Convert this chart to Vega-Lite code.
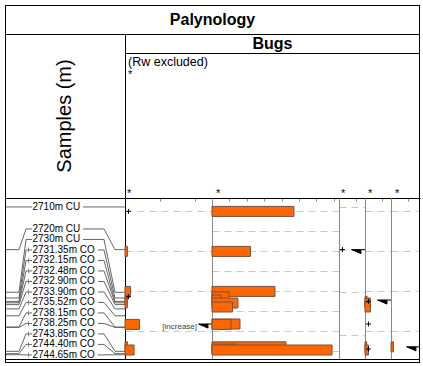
{
  "$schema": "https://vega.github.io/schema/vega-lite/v6.json",
  "padding": 4,
  "spacing": 0,
  "bounds": "flush",
  "align": "each",
  "columns": 6,
  "config": {
    "view": {"stroke": null},
    "font": "Liberation Sans",
    "concat": {"spacing": 0}
  },
  "datasets": {
    "samples": [
      {"depth": 2710, "label": "2710m CU", "kind": "CU", "ly": 2710},
      {"depth": 2720, "label": "2720m CU", "kind": "CU", "ly": 2715.16},
      {"depth": 2730, "label": "2730m CU", "kind": "CU", "ly": 2717.62},
      {"depth": 2731.35, "label": "2731.35m CO", "kind": "CO", "ly": 2720.08},
      {"depth": 2732.15, "label": "2732.15m CO", "kind": "CO", "ly": 2722.54},
      {"depth": 2732.48, "label": "2732.48m CO", "kind": "CO", "ly": 2725.0},
      {"depth": 2732.9, "label": "2732.90m CO", "kind": "CO", "ly": 2727.47},
      {"depth": 2733.9, "label": "2733.90m CO", "kind": "CO", "ly": 2729.93},
      {"depth": 2735.52, "label": "2735.52m CO", "kind": "CO", "ly": 2732.39},
      {"depth": 2738.15, "label": "2738.15m CO", "kind": "CO", "ly": 2734.85},
      {"depth": 2738.25, "label": "2738.25m CO", "kind": "CO", "ly": 2737.31},
      {"depth": 2743.85, "label": "2743.85m CO", "kind": "CO", "ly": 2739.77},
      {"depth": 2744.4, "label": "2744.40m CO", "kind": "CO", "ly": 2742.23},
      {"depth": 2744.65, "label": "2744.65m CO", "kind": "CO", "ly": 2744.69}
    ],
    "counts": [
      {"taxon": "T1", "depth": 2720, "value": 1.4},
      {"taxon": "T1", "depth": 2730, "value": 3.1},
      {"taxon": "T1", "depth": 2732.15, "value": 1.3},
      {"taxon": "T1", "depth": 2732.9, "value": 1.3},
      {"taxon": "T1", "depth": 2738.25, "value": 8.3},
      {"taxon": "T1", "depth": 2743.85, "value": 1.4},
      {"taxon": "T1", "depth": 2744.65, "value": 5.2},
      {"taxon": "T2", "depth": 2710, "value": 47.1},
      {"taxon": "T2", "depth": 2720, "value": 22.1},
      {"taxon": "T2", "depth": 2730, "value": 36.2},
      {"taxon": "T2", "depth": 2731.35, "value": 9.8},
      {"taxon": "T2", "depth": 2732.15, "value": 5.2},
      {"taxon": "T2", "depth": 2732.9, "value": 14.9},
      {"taxon": "T2", "depth": 2733.9, "value": 11.8},
      {"taxon": "T2", "depth": 2738.15, "value": 16.1},
      {"taxon": "T2", "depth": 2738.25, "value": 10.9},
      {"taxon": "T2", "depth": 2743.85, "value": 42.5},
      {"taxon": "T2", "depth": 2744.4, "value": 13.8},
      {"taxon": "T2", "depth": 2744.65, "value": 69},
      {"taxon": "T4", "depth": 2732.48, "value": 1.2},
      {"taxon": "T4", "depth": 2732.9, "value": 3.1},
      {"taxon": "T4", "depth": 2733.9, "value": 3.1},
      {"taxon": "T4", "depth": 2743.85, "value": 1.0},
      {"taxon": "T4", "depth": 2744.65, "value": 2.0},
      {"taxon": "T5", "depth": 2743.85, "value": 1.4}
    ],
    "presence": [
      {"taxon": "T1", "depth": 2710},
      {"taxon": "T1", "depth": 2731.35},
      {"taxon": "T3", "depth": 2720},
      {"taxon": "T4", "depth": 2732.48},
      {"taxon": "T4", "depth": 2738.15},
      {"taxon": "T4", "depth": 2744.4}
    ],
    "wedges": [
      {"taxon": "T1", "depth": 2738.15, "note": "[increase]"},
      {"taxon": "T3", "depth": 2720, "note": ""},
      {"taxon": "T4", "depth": 2732.15, "note": ""},
      {"taxon": "T5", "depth": 2743.85, "note": ""}
    ]
  },
  "concat": [
    {"width": 120, "height": 29, "data": {"values": [{}]}, "layer": [
      {"mark": {"type": "rule", "color": "black", "yOffset": 0.5}, "encoding": {"x": {"value": 0}, "x2": {"value": "width"}, "y": {"value": 0}}},
      {"mark": {"type": "rule", "color": "black", "xOffset": 0.5}, "encoding": {"x": {"value": 0}, "y": {"value": 0}, "y2": {"value": "height"}}}
    ]},
    {"width": 87, "height": 29, "data": {"values": [{"t": "Palynology"}]}, "layer": [
      {"mark": {"type": "rule", "color": "black", "yOffset": 0.5}, "encoding": {"x": {"value": 0}, "x2": {"value": "width"}, "y": {"value": 0}}},
      {"mark": {"type": "text", "fontSize": 16, "fontWeight": "bold", "align": "center", "baseline": "middle", "dx": 0.5}, "encoding": {"x": {"value": "width"}, "text": {"field": "t"}}}
    ]},
    {"width": 127, "height": 29, "data": {"values": [{}]}, "layer": [
      {"mark": {"type": "rule", "color": "black", "yOffset": 0.5}, "encoding": {"x": {"value": 0}, "x2": {"value": "width"}, "y": {"value": 0}}}
    ]},
    {"width": 26, "height": 29, "data": {"values": [{}]}, "layer": [
      {"mark": {"type": "rule", "color": "black", "yOffset": 0.5}, "encoding": {"x": {"value": 0}, "x2": {"value": "width"}, "y": {"value": 0}}}
    ]},
    {"width": 26, "height": 29, "data": {"values": [{}]}, "layer": [
      {"mark": {"type": "rule", "color": "black", "yOffset": 0.5}, "encoding": {"x": {"value": 0}, "x2": {"value": "width"}, "y": {"value": 0}}}
    ]},
    {"width": 29, "height": 29, "data": {"values": [{}]}, "layer": [
      {"mark": {"type": "rule", "color": "black", "yOffset": 0.5}, "encoding": {"x": {"value": 0}, "x2": {"value": "width"}, "y": {"value": 0}}},
      {"mark": {"type": "rule", "color": "black", "xOffset": -0.5}, "encoding": {"x": {"value": "width"}, "y": {"value": 0}, "y2": {"value": "height"}}}
    ]},

    {"width": 120, "height": 19, "data": {"values": [{}]}, "layer": [
      {"mark": {"type": "rule", "color": "black", "yOffset": 0.5}, "encoding": {"x": {"value": 0}, "x2": {"value": "width"}, "y": {"value": 0}}},
      {"mark": {"type": "rule", "color": "black", "xOffset": 0.5}, "encoding": {"x": {"value": 0}, "y": {"value": 0}, "y2": {"value": "height"}}}
    ]},
    {"width": 87, "height": 19, "data": {"values": [{}]}, "layer": [
      {"mark": {"type": "rule", "color": "black", "yOffset": 0.5}, "encoding": {"x": {"value": 0}, "x2": {"value": "width"}, "y": {"value": 0}}},
      {"mark": {"type": "rule", "color": "black", "xOffset": 0.5}, "encoding": {"x": {"value": 0}, "y": {"value": 0}, "y2": {"value": "height"}}}
    ]},
    {"width": 127, "height": 19, "data": {"values": [{"t": "Bugs"}]}, "layer": [
      {"mark": {"type": "rule", "color": "black", "yOffset": 0.5}, "encoding": {"x": {"value": 0}, "x2": {"value": "width"}, "y": {"value": 0}}},
      {"mark": {"type": "text", "fontSize": 16, "fontWeight": "bold", "align": "center", "baseline": "middle", "dx": -3, "dy": 0.5}, "encoding": {"text": {"field": "t"}}}
    ]},
    {"width": 26, "height": 19, "data": {"values": [{}]}, "layer": [
      {"mark": {"type": "rule", "color": "black", "yOffset": 0.5}, "encoding": {"x": {"value": 0}, "x2": {"value": "width"}, "y": {"value": 0}}}
    ]},
    {"width": 26, "height": 19, "data": {"values": [{}]}, "layer": [
      {"mark": {"type": "rule", "color": "black", "yOffset": 0.5}, "encoding": {"x": {"value": 0}, "x2": {"value": "width"}, "y": {"value": 0}}}
    ]},
    {"width": 29, "height": 19, "data": {"values": [{}]}, "layer": [
      {"mark": {"type": "rule", "color": "black", "yOffset": 0.5}, "encoding": {"x": {"value": 0}, "x2": {"value": "width"}, "y": {"value": 0}}},
      {"mark": {"type": "rule", "color": "black", "xOffset": -0.5}, "encoding": {"x": {"value": "width"}, "y": {"value": 0}, "y2": {"value": "height"}}}
    ]},

    {"width": 120, "height": 145, "data": {"values": [{"t": "Samples (m)"}]}, "layer": [
      {"mark": {"type": "rule", "color": "black", "xOffset": 0.5}, "encoding": {"x": {"value": 0}, "y": {"value": 0}, "y2": {"value": "height"}}},
      {"mark": {"type": "text", "fontSize": 20, "angle": 270, "align": "center", "baseline": "middle", "dx": 9.5}, "encoding": {"text": {"field": "t"}}}
    ]},
    {"width": 87, "height": 145, "data": {"values": [{"t": "*"}]}, "layer": [
      {"mark": {"type": "rule", "color": "black", "yOffset": 0.5}, "encoding": {"x": {"value": 0}, "x2": {"value": "width"}, "y": {"value": 0}}},
      {"mark": {"type": "rule", "color": "black", "xOffset": 0.5}, "encoding": {"x": {"value": 0}, "y": {"value": 0}, "y2": {"value": "height"}}},
      {"mark": {"type": "text", "align": "left", "baseline": "top", "dx": 3, "dy": 3, "fontSize": 12.5}, "encoding": {"x": {"value": 0}, "y": {"value": 0}, "text": {"value": "(Rw excluded)"}}},
      {"mark": {"type": "text", "align": "left", "baseline": "top", "dx": 3, "dy": 16, "fontSize": 11}, "encoding": {"x": {"value": 0}, "y": {"value": 0}, "text": {"field": "t"}}},
      {"mark": {"type": "text", "align": "left", "baseline": "alphabetic", "dx": 2, "dy": -1, "fontSize": 11}, "encoding": {"x": {"value": 0}, "y": {"value": "height"}, "text": {"field": "t"}}}
    ]},
    {"width": 127, "height": 145, "data": {"values": [{"t": "*"}]}, "layer": [
      {"mark": {"type": "rule", "color": "black", "yOffset": 0.5}, "encoding": {"x": {"value": 0}, "x2": {"value": "width"}, "y": {"value": 0}}},
      {"mark": {"type": "text", "align": "left", "baseline": "alphabetic", "dx": 4, "dy": -1, "fontSize": 11}, "encoding": {"x": {"value": 0}, "y": {"value": "height"}, "text": {"field": "t"}}}
    ]},
    {"width": 26, "height": 145, "data": {"values": [{"t": "*"}]}, "layer": [
      {"mark": {"type": "rule", "color": "black", "yOffset": 0.5}, "encoding": {"x": {"value": 0}, "x2": {"value": "width"}, "y": {"value": 0}}},
      {"mark": {"type": "text", "align": "left", "baseline": "alphabetic", "dx": 2, "dy": -1, "fontSize": 11}, "encoding": {"x": {"value": 0}, "y": {"value": "height"}, "text": {"field": "t"}}}
    ]},
    {"width": 26, "height": 145, "data": {"values": [{"t": "*"}]}, "layer": [
      {"mark": {"type": "rule", "color": "black", "yOffset": 0.5}, "encoding": {"x": {"value": 0}, "x2": {"value": "width"}, "y": {"value": 0}}},
      {"mark": {"type": "text", "align": "left", "baseline": "alphabetic", "dx": 3, "dy": -1, "fontSize": 11}, "encoding": {"x": {"value": 0}, "y": {"value": "height"}, "text": {"field": "t"}}}
    ]},
    {"width": 29, "height": 145, "data": {"values": [{"t": "*"}]}, "layer": [
      {"mark": {"type": "rule", "color": "black", "yOffset": 0.5}, "encoding": {"x": {"value": 0}, "x2": {"value": "width"}, "y": {"value": 0}}},
      {"mark": {"type": "rule", "color": "black", "xOffset": -0.5}, "encoding": {"x": {"value": "width"}, "y": {"value": 0}, "y2": {"value": "height"}}},
      {"mark": {"type": "text", "align": "left", "baseline": "alphabetic", "dx": 4, "dy": -1, "fontSize": 11}, "encoding": {"x": {"value": 0}, "y": {"value": "height"}, "text": {"field": "t"}}}
    ]},

    {
      "width": 120, "height": 161,
      "data": {"name": "samples"},
      "layer": [
        {
          "mark": {"type": "rule", "color": "#666"},
          "encoding": {
            "x": {"datum": 0, "type": "quantitative", "scale": {"domain": [0, 120], "nice": false, "zero": false}, "axis": null},
            "x2": {"datum": 14},
            "y": {"field": "depth", "type": "quantitative", "scale": {"domain": [2707.9, 2745.65], "nice": false, "zero": false, "reverse": true}, "axis": null}
          }
        },
        {
          "mark": {"type": "rule", "color": "#666"},
          "encoding": {"x": {"datum": 14, "type": "quantitative"}, "x2": {"datum": 21}, "y": {"field": "depth", "type": "quantitative"}, "y2": {"field": "ly"}}
        },
        {
          "mark": {"type": "rule", "color": "#666"},
          "encoding": {"x": {"datum": 21, "type": "quantitative"}, "x2": {"datum": 27}, "y": {"field": "ly", "type": "quantitative"}}
        },
        {
          "transform": [{"filter": "datum.kind === 'CO'"}],
          "mark": {"type": "tick", "orient": "vertical", "size": 5, "thickness": 1, "color": "#666"},
          "encoding": {"x": {"datum": 23.5, "type": "quantitative"}, "y": {"field": "ly", "type": "quantitative"}}
        },
        {
          "mark": {"type": "text", "align": "left", "baseline": "middle", "fontSize": 10, "color": "black"},
          "encoding": {"x": {"datum": 27.5, "type": "quantitative"}, "y": {"field": "ly", "type": "quantitative"}, "text": {"field": "label"}}
        },
        {
          "transform": [{"filter": "datum.kind === 'CU'"}],
          "mark": {"type": "rule", "color": "#666"},
          "encoding": {"x": {"datum": 78, "type": "quantitative"}, "x2": {"datum": 99}, "y": {"field": "ly", "type": "quantitative"}}
        },
        {
          "transform": [{"filter": "datum.kind === 'CO'"}],
          "mark": {"type": "rule", "color": "#666"},
          "encoding": {"x": {"datum": 93, "type": "quantitative"}, "x2": {"datum": 99}, "y": {"field": "ly", "type": "quantitative"}}
        },
        {
          "mark": {"type": "rule", "color": "#666"},
          "encoding": {"x": {"datum": 99, "type": "quantitative"}, "x2": {"datum": 110}, "y": {"field": "ly", "type": "quantitative"}, "y2": {"field": "depth"}}
        },
        {
          "mark": {"type": "rule", "color": "#666"},
          "encoding": {"x": {"datum": 110, "type": "quantitative"}, "x2": {"datum": 120}, "y": {"field": "depth", "type": "quantitative"}}
        },
        {"mark": {"type": "rule", "color": "black", "yOffset": 0.5}, "encoding": {"x": {"value": 0}, "x2": {"value": "width"}, "y": {"value": 0}}},
        {"mark": {"type": "rule", "color": "black", "xOffset": 0.5}, "encoding": {"x": {"value": 0}, "y": {"value": 0}, "y2": {"value": "height"}}}
      ]
    },
    {
      "width": 87, "height": 161,
      "layer": [
        {
          "data": {"name": "counts"},
          "transform": [{"filter": "datum.taxon === 'T1'"}],
          "mark": {"type": "bar", "orient": "horizontal", "size": 10, "fill": "#ff6600", "stroke": "#7a5040", "strokeWidth": 1},
          "encoding": {
            "x": {"field": "value", "type": "quantitative", "scale": {"domain": [0, 50], "nice": false},
                  "axis": {"orient": "top", "values": [0, 10, 20, 30, 40, 50], "labels": false, "tickSize": -3, "tickColor": "#888", "domainColor": "black", "grid": false, "title": null}},
            "y": {"field": "depth", "type": "quantitative", "scale": {"domain": [2707.9, 2745.65], "nice": false, "zero": false, "reverse": true},
                  "axis": {"orient": "left", "values": [2710, 2715, 2720, 2725, 2730, 2735, 2740, 2745], "labels": false, "ticks": false, "grid": true, "gridDash": [7, 5], "gridColor": "#c8c8c8", "domainColor": "black", "title": null}}
          }
        },
        {
          "data": {"name": "presence"},
          "transform": [{"filter": "datum.taxon === 'T1'"}],
          "mark": {"type": "point", "shape": "M-1,0L1,0M0,-1L0,1", "size": 25, "filled": false, "color": "black", "strokeWidth": 1, "opacity": 1},
          "encoding": {"x": {"datum": 2, "type": "quantitative"}, "y": {"field": "depth", "type": "quantitative"}}
        },
        {
          "data": {"name": "wedges"},
          "transform": [{"filter": "datum.taxon === 'T1'"}],
          "mark": {"type": "point", "shape": "M-0.96,0L-0.29,0L-0.29,0.29ZM-0.29,0L0,0", "size": 784, "filled": true, "color": "black", "stroke": "black", "strokeWidth": 1, "opacity": 1},
          "encoding": {"x": {"value": "width"}, "y": {"field": "depth", "type": "quantitative"}}
        },
        {
          "data": {"name": "wedges"},
          "transform": [{"filter": "datum.taxon === 'T1'"}],
          "mark": {"type": "text", "align": "right", "baseline": "middle", "dx": -15, "dy": 3, "fontSize": 8, "color": "#444"},
          "encoding": {"x": {"value": "width"}, "y": {"field": "depth", "type": "quantitative"}, "text": {"field": "note"}}
        }
      ]
    },
    {
      "width": 127, "height": 161,
      "data": {"name": "counts"},
      "transform": [{"filter": "datum.taxon === 'T2'"}],
      "mark": {"type": "bar", "orient": "horizontal", "size": 10, "fill": "#ff6600", "stroke": "#7a5040", "strokeWidth": 1},
      "encoding": {
        "x": {"field": "value", "type": "quantitative", "scale": {"domain": [0, 73], "nice": false},
              "axis": {"orient": "top", "values": [0, 10, 20, 30, 40, 50, 60, 70], "labels": false, "tickSize": -3, "tickColor": "#888", "domainColor": "black", "grid": false, "title": null}},
        "y": {"field": "depth", "type": "quantitative", "scale": {"domain": [2707.9, 2745.65], "nice": false, "zero": false, "reverse": true},
              "axis": {"orient": "left", "values": [2710, 2715, 2720, 2725, 2730, 2735, 2740, 2745], "labels": false, "ticks": false, "grid": true, "gridDash": [7, 5], "gridColor": "#c8c8c8", "domainColor": "#888", "title": null}}
      }
    },
    {
      "width": 26, "height": 161,
      "layer": [
        {
          "data": {"name": "presence"},
          "transform": [{"filter": "datum.taxon === 'T3'"}],
          "mark": {"type": "point", "shape": "M-1,0L1,0M0,-1L0,1", "size": 25, "filled": false, "color": "black", "strokeWidth": 1, "opacity": 1},
          "encoding": {
            "x": {"datum": 2, "type": "quantitative", "scale": {"domain": [0, 15], "nice": false},
                  "axis": {"orient": "top", "values": [0, 10], "labels": false, "tickSize": -3, "tickColor": "#888", "domainColor": "black", "grid": false, "title": null}},
            "y": {"field": "depth", "type": "quantitative", "scale": {"domain": [2707.9, 2745.65], "nice": false, "zero": false, "reverse": true},
                  "axis": {"orient": "left", "values": [2710, 2715, 2720, 2725, 2730, 2735, 2740, 2745], "labels": false, "ticks": false, "grid": true, "gridDash": [7, 5], "gridColor": "#c8c8c8", "domainColor": "#888", "title": null}}
          }
        },
        {
          "data": {"name": "wedges"},
          "transform": [{"filter": "datum.taxon === 'T3'"}],
          "mark": {"type": "point", "shape": "M-0.96,0L-0.29,0L-0.29,0.29ZM-0.29,0L0,0", "size": 784, "filled": true, "color": "black", "stroke": "black", "strokeWidth": 1, "opacity": 1},
          "encoding": {"x": {"value": "width"}, "y": {"field": "depth", "type": "quantitative"}}
        }
      ]
    },
    {
      "width": 26, "height": 161,
      "layer": [
        {
          "data": {"name": "counts"},
          "transform": [{"filter": "datum.taxon === 'T4'"}],
          "mark": {"type": "bar", "orient": "horizontal", "size": 10, "fill": "#ff6600", "stroke": "#7a5040", "strokeWidth": 1},
          "encoding": {
            "x": {"field": "value", "type": "quantitative", "scale": {"domain": [0, 15], "nice": false},
                  "axis": {"orient": "top", "values": [0, 10], "labels": false, "tickSize": -3, "tickColor": "#888", "domainColor": "black", "grid": false, "title": null}},
            "y": {"field": "depth", "type": "quantitative", "scale": {"domain": [2707.9, 2745.65], "nice": false, "zero": false, "reverse": true},
                  "axis": {"orient": "left", "values": [2710, 2715, 2720, 2725, 2730, 2735, 2740, 2745], "labels": false, "ticks": false, "grid": true, "gridDash": [7, 5], "gridColor": "#c8c8c8", "domainColor": "#888", "title": null}}
          }
        },
        {
          "data": {"name": "presence"},
          "transform": [{"filter": "datum.taxon === 'T4'"}],
          "mark": {"type": "point", "shape": "M-1,0L1,0M0,-1L0,1", "size": 25, "filled": false, "color": "black", "strokeWidth": 1, "opacity": 1},
          "encoding": {"x": {"datum": 2, "type": "quantitative"}, "y": {"field": "depth", "type": "quantitative"}}
        },
        {
          "data": {"name": "wedges"},
          "transform": [{"filter": "datum.taxon === 'T4'"}],
          "mark": {"type": "point", "shape": "M-0.96,0L-0.29,0L-0.29,0.29ZM-0.29,0L0,0", "size": 784, "filled": true, "color": "black", "stroke": "black", "strokeWidth": 1, "opacity": 1},
          "encoding": {"x": {"value": "width"}, "y": {"field": "depth", "type": "quantitative"}}
        }
      ]
    },
    {
      "width": 29, "height": 161,
      "layer": [
        {
          "data": {"name": "counts"},
          "transform": [{"filter": "datum.taxon === 'T5'"}],
          "mark": {"type": "bar", "orient": "horizontal", "size": 10, "fill": "#ff6600", "stroke": "#7a5040", "strokeWidth": 1},
          "encoding": {
            "x": {"field": "value", "type": "quantitative", "scale": {"domain": [0, 16.67], "nice": false},
                  "axis": {"orient": "top", "values": [0, 10], "labels": false, "tickSize": -3, "tickColor": "#888", "domainColor": "black", "grid": false, "title": null}},
            "y": {"field": "depth", "type": "quantitative", "scale": {"domain": [2707.9, 2745.65], "nice": false, "zero": false, "reverse": true},
                  "axis": {"orient": "left", "values": [2710, 2715, 2720, 2725, 2730, 2735, 2740, 2745], "labels": false, "ticks": false, "grid": true, "gridDash": [7, 5], "gridColor": "#c8c8c8", "domainColor": "#888", "title": null}}
          }
        },
        {
          "data": {"name": "wedges"},
          "transform": [{"filter": "datum.taxon === 'T5'"}],
          "mark": {"type": "point", "shape": "M-0.96,0L-0.29,0L-0.29,0.29ZM-0.29,0L0,0", "size": 784, "filled": true, "color": "black", "stroke": "black", "strokeWidth": 1, "opacity": 1},
          "encoding": {"x": {"value": "width"}, "y": {"field": "depth", "type": "quantitative"}}
        },
        {
          "data": {"values": [{}]},
          "mark": {"type": "rule", "color": "black", "xOffset": -0.5},
          "encoding": {"x": {"value": "width"}, "y": {"value": 0}, "y2": {"value": "height"}}
        }
      ]
    },

    {"width": 120, "height": 4, "data": {"values": [{}]}, "layer": [
      {"mark": {"type": "rule", "color": "black", "yOffset": 0.5}, "encoding": {"x": {"value": 0}, "x2": {"value": "width"}, "y": {"value": 0}}},
      {"mark": {"type": "rule", "color": "black", "yOffset": -0.5}, "encoding": {"x": {"value": 0}, "x2": {"value": "width"}, "y": {"value": "height"}}},
      {"mark": {"type": "rule", "color": "black", "xOffset": 0.5}, "encoding": {"x": {"value": 0}, "y": {"value": 0}, "y2": {"value": "height"}}}
    ]},
    {"width": 87, "height": 4, "data": {"values": [{}]}, "layer": [
      {"mark": {"type": "rule", "color": "black", "yOffset": 0.5}, "encoding": {"x": {"value": 0}, "x2": {"value": "width"}, "y": {"value": 0}}},
      {"mark": {"type": "rule", "color": "black", "yOffset": -0.5}, "encoding": {"x": {"value": 0}, "x2": {"value": "width"}, "y": {"value": "height"}}}
    ]},
    {"width": 127, "height": 4, "data": {"values": [{}]}, "layer": [
      {"mark": {"type": "rule", "color": "black", "yOffset": 0.5}, "encoding": {"x": {"value": 0}, "x2": {"value": "width"}, "y": {"value": 0}}},
      {"mark": {"type": "rule", "color": "black", "yOffset": -0.5}, "encoding": {"x": {"value": 0}, "x2": {"value": "width"}, "y": {"value": "height"}}}
    ]},
    {"width": 26, "height": 4, "data": {"values": [{}]}, "layer": [
      {"mark": {"type": "rule", "color": "black", "yOffset": 0.5}, "encoding": {"x": {"value": 0}, "x2": {"value": "width"}, "y": {"value": 0}}},
      {"mark": {"type": "rule", "color": "black", "yOffset": -0.5}, "encoding": {"x": {"value": 0}, "x2": {"value": "width"}, "y": {"value": "height"}}}
    ]},
    {"width": 26, "height": 4, "data": {"values": [{}]}, "layer": [
      {"mark": {"type": "rule", "color": "black", "yOffset": 0.5}, "encoding": {"x": {"value": 0}, "x2": {"value": "width"}, "y": {"value": 0}}},
      {"mark": {"type": "rule", "color": "black", "yOffset": -0.5}, "encoding": {"x": {"value": 0}, "x2": {"value": "width"}, "y": {"value": "height"}}}
    ]},
    {"width": 29, "height": 4, "data": {"values": [{}]}, "layer": [
      {"mark": {"type": "rule", "color": "black", "yOffset": 0.5}, "encoding": {"x": {"value": 0}, "x2": {"value": "width"}, "y": {"value": 0}}},
      {"mark": {"type": "rule", "color": "black", "yOffset": -0.5}, "encoding": {"x": {"value": 0}, "x2": {"value": "width"}, "y": {"value": "height"}}},
      {"mark": {"type": "rule", "color": "black", "xOffset": -0.5}, "encoding": {"x": {"value": "width"}, "y": {"value": 0}, "y2": {"value": "height"}}}
    ]}
  ]
}
